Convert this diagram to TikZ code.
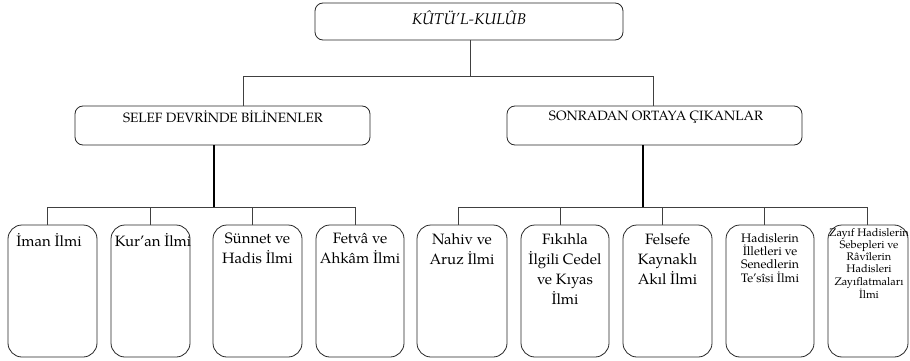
\documentclass[tikz,border=0pt]{standalone}
\usepackage{fontspec}
\setmainfont{TeX Gyre Pagella}
\begin{document}
\begin{tikzpicture}[x=1pt,y=-1pt,
  box/.style={draw=black!85, line width=0.8pt, rounded corners=8pt, inner sep=0pt},
  leaf/.style={box, rounded corners=14pt, minimum height=132pt},
  conn/.style={draw=black!75, line width=0.8pt},
  trunk/.style={draw=black, line width=2pt},
  txt/.style={inner sep=0pt, align=center, text=black},
  big/.style={txt, font=\fontsize{15}{20}\selectfont},
]
\useasboundingbox (0,0) rectangle (910,361);
% top
\node[box, minimum width=308pt, minimum height=37pt] (top) at (469,21.5) {};
\node[txt, font=\fontsize{15.5}{18}\selectfont\itshape] (toptxt) at (469,17.5) {KÛTÜ’L-KULÛB};
% middle
\node[box, minimum width=295pt, minimum height=39pt] (m1) at (222.5,125.5) {};
\node[box, minimum width=295pt, minimum height=39pt] (m2) at (654.5,125.5) {};
\node[txt, font=\fontsize{13.5}{16}\selectfont] (m1txt) at (223,117) {SELEF DEVRİNDE BİLİNENLER};
\node[txt, font=\fontsize{13.5}{16}\selectfont] (m2txt) at (656,117) {SONRADAN ORTAYA ÇIKANLAR};
% leaves
\node[leaf, minimum width=89pt] (l1) at (52.5,291) {};
\node[leaf, minimum width=79pt] (l2) at (150.5,291) {};
\node[leaf, minimum width=89pt] (l3) at (257.5,291) {};
\node[leaf, minimum width=88pt] (l4) at (360,291) {};
\node[leaf, minimum width=90pt] (l5) at (462,291) {};
\node[leaf, minimum width=88pt] (l6) at (565,291) {};
\node[leaf, minimum width=89pt] (l7) at (667.5,291) {};
\node[leaf, minimum width=88pt] (l8) at (770,291) {};
\node[leaf, minimum width=80pt] (l9) at (868,291) {};
\node[big, anchor=north] (t1) at (49,233) {İman İlmi};
\node[big, anchor=north] (t2) at (153,233) {Kur’an İlmi};
\node[big, anchor=north] (t3) at (257.5,233) {Sünnet ve\\Hadis İlmi};
\node[big, anchor=north] (t4) at (360,233) {Fetvâ ve\\Ahkâm İlmi};
\node[big, anchor=north] (t5) at (462,233) {Nahiv ve\\Aruz İlmi};
\node[big, anchor=north] (t6) at (565,233) {Fıkıhla\\İlgili Cedel\\ve Kıyas\\İlmi};
\node[big, anchor=north] (t7) at (667.5,233) {Felsefe\\Kaynaklı\\Akıl İlmi};
\node[txt, anchor=north, font=\fontsize{12.3}{13.4}\selectfont] (t8) at (770,233) {Hadislerin\\İlletleri ve\\Senedlerin\\Te’sîsi İlmi};
\node[txt, anchor=north, font=\fontsize{11}{12.2}\selectfont] (t9) at (869,228) {Zayıf Hadislerin\\Sebepleri ve\\Râvîlerin\\Hadisleri\\Zayıflatmaları\\İlmi};
% connector points
\coordinate (j0) at (470,76);
\coordinate (c1) at (243,106);
\coordinate (c2) at (653,106);
\coordinate (b1) at (214,145);
\coordinate (b2) at (643,145);
\coordinate (h1) at (214,207);
\coordinate (h2) at (643,207);
\draw[conn] (top.south -| j0) -- (j0);
\draw[conn] (j0) -| (c1);
\draw[conn] (j0) -| (c2);
\draw[trunk] (b1) -- (h1);
\draw[trunk] (b2) -- (h2);
\foreach \n/\x in {l1/47,l2/150,l3/252,l4/355}{
  \draw[conn] (h1) -| (\x,225);
}
\foreach \n/\x in {l5/458,l6/560,l7/662,l8/764,l9/867}{
  \draw[conn] (h2) -| (\x,225);
}
\end{tikzpicture}
\end{document}
